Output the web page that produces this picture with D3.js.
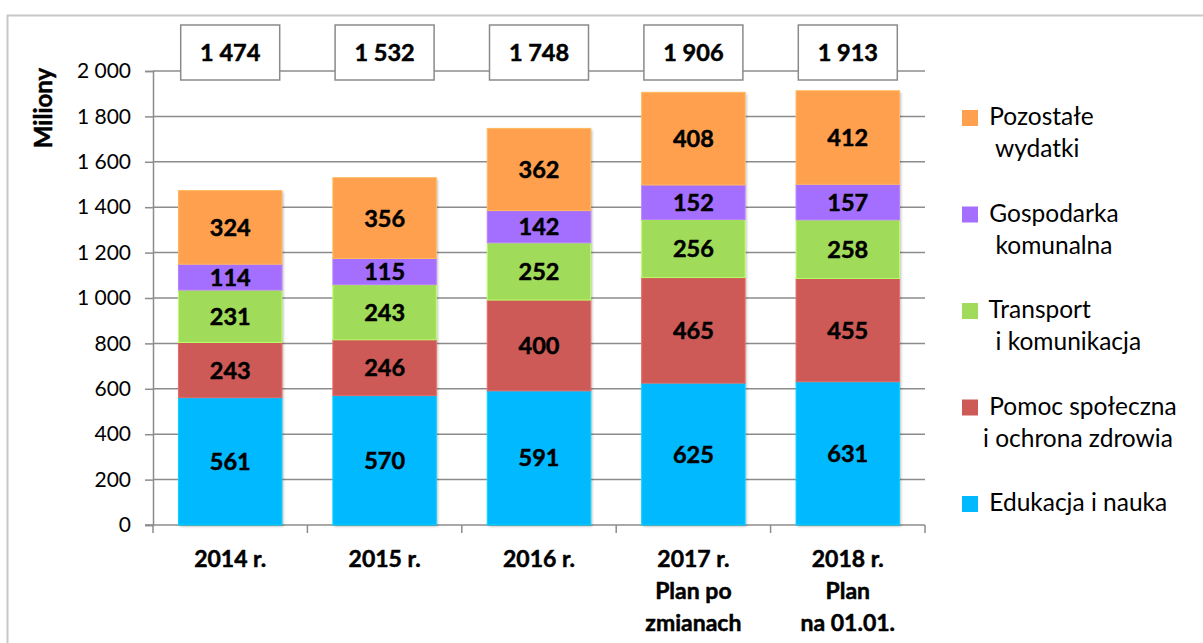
<!DOCTYPE html>
<html>
<head>
<meta charset="utf-8">
<script src="https://cdn.jsdelivr.net/npm/d3@7"></script>
<style>
  html, body { margin: 0; padding: 0; background: #fff; }
  svg { display: block; font-family: Lato, "Open Sans", sans-serif; }
  .legend text { white-space: pre; }
  .heavy { stroke: #000; stroke-width: 0.5px; }
</style>
</head>
<body>
<div id="chart"></div>
<script>
// categories (multi-line labels)
var categories = ["2014", "2015", "2016", "2017", "2018"];
var categoryLabels = [
    ["2014 r."],
    ["2015 r."],
    ["2016 r."],
    ["2017 r.", "Plan po", "zmianach"],
    ["2018 r.", "Plan", "na 01.01."]
];

// series, bottom to top
var seriesNames = ["Edukacja i nauka", "Pomoc społeczna i ochrona zdrowia", "Transport i komunikacja", "Gospodarka komunalna", "Pozostałe wydatki"];
var edukacja = [561, 570, 591, 625, 631];
var pomoc = [243, 246, 400, 465, 455];
var transport = [231, 243, 252, 256, 258];
var gospodarka = [114, 115, 142, 152, 157];
var pozostale = [324, 356, 362, 408, 412];
var totals = ["1 474", "1 532", "1 748", "1 906", "1 913"];

var seriesColors = ["#00b9ff", "#cd5a56", "#a0dc5a", "#a46eff", "#ffa04f"];
var legendLines = [
    [" Pozostałe", "  wydatki"],
    [" Gospodarka", "  komunalna"],
    [" Transport", "  i komunikacja"],
    [" Pomoc społeczna", "i ochrona zdrowia"],
    [" Edukacja i nauka"]
];
var yTicks = [0, 200, 400, 600, 800, 1000, 1200, 1400, 1600, 1800, 2000];

var width = 1203, height = 643;
var svg = d3.select("#chart").append("svg")
    .attr("width", width)
    .attr("height", height);

// outer frame
svg.append("rect")
    .attr("x", 7.5).attr("y", 15.5)
    .attr("width", 1400).attr("height", 800)
    .attr("fill", "none")
    .attr("stroke", "#c8c8c8")
    .attr("stroke-width", 2);

var x = d3.scaleBand()
    .domain(categories)
    .range([153, 925])
    .paddingInner(0.33)
    .paddingOuter(0.165);

var y = d3.scaleLinear()
    .domain([0, 2000])
    .range([525, 71]);

function fmt(v) {
    return d3.format(",")(v).replace(/,/g, " ");
}

// gridlines
svg.append("g").attr("class", "grid")
    .selectAll("line")
    .data(yTicks.filter(function(t) { return t > 0; }))
    .enter().append("line")
    .attr("x1", 153).attr("x2", 925)
    .attr("y1", function(d) { return y(d); })
    .attr("y2", function(d) { return y(d); })
    .attr("stroke", "#8c8c8c")
    .attr("stroke-width", 1.5);

// y axis
var yAxis = svg.append("g")
    .attr("transform", "translate(153,0)")
    .call(d3.axisLeft(y).tickValues(yTicks).tickSize(8).tickPadding(14).tickFormat(fmt));
yAxis.select(".domain").attr("stroke", "#8c8c8c").attr("stroke-width", 1.5);
yAxis.selectAll(".tick line").attr("stroke", "#8c8c8c").attr("stroke-width", 1.5);
yAxis.selectAll(".tick text")
    .attr("font-family", "Lato, sans-serif")
    .attr("font-size", 21)
    .attr("fill", "#000");

// x axis baseline and category separators
svg.append("line")
    .attr("x1", 145).attr("x2", 925)
    .attr("y1", y(0)).attr("y2", y(0))
    .attr("stroke", "#8c8c8c").attr("stroke-width", 1.5);

var step = x.step();
var sepX = categories.map(function(c) { return x(c) + x.bandwidth() / 2 - step / 2; });
sepX.push(x(categories[categories.length - 1]) + x.bandwidth() / 2 + step / 2);
svg.append("g").selectAll("line")
    .data(sepX)
    .enter().append("line")
    .attr("x1", function(d) { return d; }).attr("x2", function(d) { return d; })
    .attr("y1", y(0)).attr("y2", y(0) + 8)
    .attr("stroke", "#8c8c8c").attr("stroke-width", 1.5);

// category labels
var catG = svg.append("g").selectAll("text")
    .data(categories)
    .enter().append("text")
    .attr("class", "heavy")
    .attr("text-anchor", "middle")
    .attr("font-size", 23)
    .attr("font-weight", "bold")
    .attr("fill", "#000");
catG.each(function(c, i) {
    var t = d3.select(this);
    categoryLabels[i].forEach(function(line, j) {
        t.append("tspan")
            .attr("x", x(c) + x.bandwidth() / 2)
            .attr("y", 567 + j * 32)
            .text(line);
    });
});

// y axis title
svg.append("text")
    .attr("class", "heavy")
    .attr("transform", "translate(52,108) rotate(-90)")
    .attr("text-anchor", "middle")
    .attr("font-size", 24)
    .attr("font-weight", "bold")
    .text("Miliony");

// stacked bars
var rows = categories.map(function(c, i) {
    return { cat: c, s0: edukacja[i], s1: pomoc[i], s2: transport[i], s3: gospodarka[i], s4: pozostale[i] };
});
var stack = d3.stack().keys(["s0", "s1", "s2", "s3", "s4"]);
var layers = stack(rows);

var defs = svg.append("defs");
var f = defs.append("filter").attr("id", "shadow").attr("x", "-10%").attr("y", "-10%").attr("width", "130%").attr("height", "130%");
f.append("feDropShadow").attr("dx", 1.5).attr("dy", 1.5).attr("stdDeviation", 1.2).attr("flood-color", "#000").attr("flood-opacity", 0.25);

var plot = svg.append("g").attr("class", "plot");
plot.selectAll("rect.back")
    .data(rows)
    .enter().append("rect")
    .attr("x", function(d) { return x(d.cat); })
    .attr("y", function(d, i) { return y(layers[4][i][1]); })
    .attr("width", x.bandwidth())
    .attr("height", function(d, i) { return y(0) - y(layers[4][i][1]); })
    .attr("fill", "#fff")
    .attr("filter", "url(#shadow)");

layers.forEach(function(layer, k) {
    var g = plot.append("g");
    g.selectAll("rect")
        .data(layer)
        .enter().append("rect")
        .attr("x", function(d) { return x(d.data.cat); })
        .attr("y", function(d) { return y(d[1]); })
        .attr("width", x.bandwidth())
        .attr("height", function(d) { return y(d[0]) - y(d[1]); })
        .attr("fill", seriesColors[k])
        .attr("stroke", d3.color(seriesColors[k]).brighter(0.4))
        .attr("stroke-width", 1);
    g.selectAll("text")
        .data(layer)
        .enter().append("text")
        .attr("class", "heavy")
        .attr("x", function(d) { return x(d.data.cat) + x.bandwidth() / 2; })
        .attr("y", function(d) { return (y(d[0]) + y(d[1])) / 2; })
        .attr("dy", "0.36em")
        .attr("text-anchor", "middle")
        .attr("font-size", 23.5)
        .attr("font-weight", "bold")
        .attr("fill", "#000")
        .text(function(d) { return d[1] - d[0]; });
});

// total boxes
var boxW = 99, boxH = 55;
var boxes = svg.append("g").selectAll("g")
    .data(categories)
    .enter().append("g")
    .attr("transform", function(c) { return "translate(" + (x(c) + x.bandwidth() / 2 - boxW / 2) + ",25)"; });
boxes.append("rect")
    .attr("width", boxW).attr("height", boxH)
    .attr("fill", "#fff")
    .attr("stroke", "#8a8a8a")
    .attr("stroke-width", 1.5);
boxes.append("text")
    .attr("class", "heavy")
    .attr("x", boxW / 2).attr("y", boxH / 2)
    .attr("dy", "0.36em")
    .attr("text-anchor", "middle")
    .attr("font-size", 23.5)
    .attr("font-weight", "bold")
    .text(function(c, i) { return totals[i]; });

// legend, top to bottom is reverse of stack order
var legend = svg.append("g").attr("class", "legend");
var legendOrder = [4, 3, 2, 1, 0];
legendOrder.forEach(function(k, i) {
    var cy = 118 + i * 96.5;
    legend.append("rect")
        .attr("x", 962).attr("y", cy - 8)
        .attr("width", 16).attr("height", 16)
        .attr("fill", seriesColors[k]);
    var t = legend.append("text")
        .attr("font-size", 24.5)
        .attr("fill", "#000");
    legendLines[i].forEach(function(line, j) {
        t.append("tspan")
            .attr("x", 983)
            .attr("y", cy + 7 + j * 32)
            .text(line);
    });
});
</script>
</body>
</html>
